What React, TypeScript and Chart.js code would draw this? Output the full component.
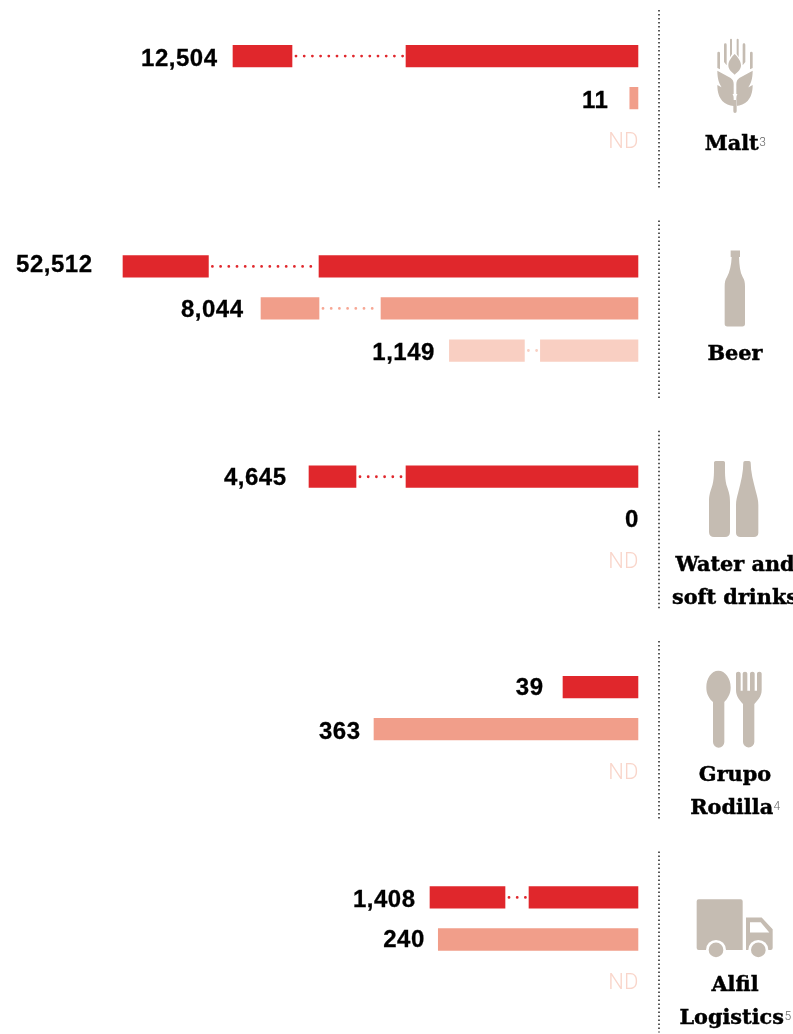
import React, { useEffect, useRef } from "react";
import { Chart, registerables } from "chart.js";

Chart.register(...registerables);

const groupNames = ["Malt", "Beer", "Water and soft drinks", "Grupo Rodilla", "Alfil Logistics"];
const titleLines = [["Malt"], ["Beer"], ["Water and", "soft drinks"], ["Grupo", "Rodilla"], ["Alfil", "Logistics"]];
const footnotes = ["3", "", "", "4", "5"];
const valueLabels = [
  ["12,504", "11", "ND"],
  ["52,512", "8,044", "1,149"],
  ["4,645", "0", "ND"],
  ["39", "363", "ND"],
  ["1,408", "240", "ND"],
];
// Drawn bar lengths (the long bars are broken, so not to scale)
const nearLengths = [
  [232.4, 8.6, 0],
  [319.4, 257.4, 98],
  [232.4, 0, 0],
  [75.4, 264.4, 0],
  [109.4, 200.1, 0],
];
const farStarts = [
  [346.4, 0, 0],
  [430, 319.4, 114],
  [282.4, 0, 0],
  [0, 0, 0],
  [133.4, 0, 0],
];
const farEnds = [
  [405.4, 0, 0],
  [515.4, 377.4, 189],
  [329.4, 0, 0],
  [0, 0, 0],
  [208.4, 0, 0],
];
const labelGaps = [
  [16, 22, 0],
  [31, 18, 15],
  [23, 0, 0],
  [20, 14, 0],
  [15, 14, 0],
];
const labelShifts = [
  [3, 3, 2],
  [-1, 2, 3],
  [2, 2, 2],
  [1, 3, 2],
  [3, 1, 2],
];
const rowColors = ["#E0272C", "#F19E8A", "#F9CFC2"];
const dotColors = ["#E0272C", "#F7A794", "#F9CFC2"];
const ICON = "#C5BCB2";
const dividerEnds = [132, 132, 132, 132, 135];

const wheat =
  "M232 159a4 4 0 0 1 8 0V208L232 204Z M252 134a4 4 0 0 1 8 0V196L252 186Z M270 119a3 3 0 0 1 6 0V162L270 172Z M290 119a3 3 0 0 1 6 0V172L290 162Z M308 134a4 4 0 0 1 8 0V186L308 196Z M330 159a4 4 0 0 1 8 0V204L330 208Z " +
  "M284 162C294 172 303 184 303 196C303 208 294 216 284 224C274 216 265 208 265 196C265 184 274 172 284 162Z " +
  "M232 212L272 234C278 238 281 244 281 252V282C256 278 232 262 232 212Z M338 212L298 234C292 238 289 244 289 252V282C314 278 338 262 338 212Z " +
  "M232 255L272 277C278 281 281 287 281 295V318C256 316 232 300 232 255Z M338 255L298 277C292 281 289 287 289 295V318C314 316 338 300 338 255Z " +
  "M280 300H290V334a5 5 0 0 1 -10 0Z";
const bottle =
  "M272 120H300V140H297C298 165 300 185 308 200C313 208 315 215 315 228V340a8 8 0 0 1 -8 8H262a8 8 0 0 1 -8 -8V228C254 215 256 208 261 200C269 185 274 165 275 140H272Z";
const twoBottles =
  "M222 97a5 5 0 0 1 5 -5H250a5 5 0 0 1 5 5C255 125 254 150 262 172C267 188 270 195 270 215V290C270 295 270 300 270 305C270 315 264 320 255 320H222C213 320 207 315 207 305C207 300 207 295 207 290V215C207 195 210 188 215 172C223 150 222 125 222 97Z " +
  "M310 97a5 5 0 0 1 5 -5H327a5 5 0 0 1 5 5C332 125 340 155 348 185C352 200 355 210 355 225V308C355 316 349 320 342 320H301C294 320 288 316 288 308V225C288 210 291 200 295 185C303 155 310 125 310 97Z";
const cutlery =
  "M235 92C256 92 272 115 272 142C272 162 262 176 253 186V306a16 16 0 0 1 -34 0V186C208 176 199 162 199 142C199 115 214 92 235 92Z " +
  "M288 100a7 5 0 0 1 14 0V152H308V100a7 5 0 0 1 14 0V152H330V100a7 5 0 0 1 14 0V152H351V100a7 5 0 0 1 14 0V150C365 170 352 182 343 192V306a17 16 0 0 1 -34 0V192C300 182 288 170 288 150Z";
const truckBody =
  "M176 148H302a6 6 0 0 1 6 6V300H176a6 6 0 0 1 -6 -6V154a6 6 0 0 1 6 -6Z M318 203H365L398 238V294a6 6 0 0 1 -6 6H318Z";
const truckWindow = "M330 217H362L388 248H330Z";
const iconDeltas = [56, 56, 46.5, 47, 47.5];

const rowLabels: string[] = [];
groupNames.forEach((name, g) => {
  valueLabels[g].forEach((_, r) => {
    rowLabels.push(name + " " + (r + 1));
  });
  if (g < groupNames.length - 1) {
    rowLabels.push("", "");
  }
});

function rowData(get: (g: number, r: number) => [number, number] | null) {
  const out: ([number, number] | null)[] = new Array(rowLabels.length).fill(null);
  groupNames.forEach((_, g) => {
    [0, 1, 2].forEach((r) => {
      out[g * 5 + r] = get(g, r);
    });
  });
  return out;
}
const rowColorList = rowLabels.map((_, i) => rowColors[i % 5] || "transparent");

const decorations = {
  id: "decorations",
  afterDatasetsDraw(chart: any) {
    const ctx: any = chart.ctx;
    const x = chart.scales.x;
    const y = chart.scales.y;
    ctx.save();
    groupNames.forEach((_, g) => {
      const top = y.getPixelForValue(g * 5);
      valueLabels[g].forEach((label, r) => {
        const cy = y.getPixelForValue(g * 5 + r);
        const near = nearLengths[g][r];
        const farS = farStarts[g][r];
        const farE = farEnds[g][r];
        if (farE > 0) {
          ctx.save();
          ctx.strokeStyle = dotColors[r];
          ctx.lineWidth = 2.8;
          ctx.lineCap = "round";
          ctx.setLineDash([0, 8.2]);
          ctx.beginPath();
          ctx.moveTo(x.getPixelForValue(farS) + 4, cy);
          ctx.lineTo(x.getPixelForValue(near) - 1, cy);
          ctx.stroke();
          ctx.restore();
        }
        ctx.textBaseline = "middle";
        ctx.textAlign = "right";
        if (label === "ND") {
          ctx.font = "300 22px Roboto";
          ctx.letterSpacing = "0px";
          ctx.fillStyle = "#F9D5CA";
          ctx.fillText(label, x.getPixelForValue(0), cy + labelShifts[g][r]);
        } else {
          const left = farE > 0 ? farE : near;
          const lx = x.getPixelForValue(left) - labelGaps[g][r] + 0.5;
          ctx.font = "bold 24px 'Liberation Sans'";
          ctx.letterSpacing = "0.5px";
          ctx.fillStyle = "#000";
          ctx.strokeStyle = "#000";
          ctx.lineWidth = 0.3;
          ctx.fillText(label, lx, cy + labelShifts[g][r]);
          ctx.strokeText(label, lx, cy + labelShifts[g][r]);
          ctx.letterSpacing = "0px";
        }
      });
      // dotted divider
      ctx.save();
      ctx.strokeStyle = "#000";
      ctx.lineWidth = 1.3;
      ctx.setLineDash([1.5, 2.5]);
      ctx.beginPath();
      ctx.moveTo(659, top - 46);
      ctx.lineTo(659, top + dividerEnds[g]);
      ctx.stroke();
      ctx.restore();
      // icon
      ctx.save();
      ctx.translate(640, top - iconDeltas[g]);
      ctx.scale(1 / 3, 1 / 3);
      ctx.fillStyle = ICON;
      if (g === 0) ctx.fill(new Path2D(wheat));
      if (g === 1) ctx.fill(new Path2D(bottle));
      if (g === 2) ctx.fill(new Path2D(twoBottles));
      if (g === 3) ctx.fill(new Path2D(cutlery));
      if (g === 4) {
        ctx.fill(new Path2D(truckBody));
        ctx.fillStyle = "#fff";
        ctx.fill(new Path2D(truckWindow));
        [228, 355].forEach((cx) => {
          ctx.fillStyle = "#fff";
          ctx.beginPath();
          ctx.arc(cx, 300, 30, 0, Math.PI * 2);
          ctx.fill();
          ctx.fillStyle = ICON;
          ctx.beginPath();
          ctx.arc(cx, 300, 22, 0, Math.PI * 2);
          ctx.fill();
        });
      }
      ctx.restore();
      // title
      ctx.textAlign = "left";
      ctx.textBaseline = "alphabetic";
      const lines = titleLines[g];
      lines.forEach((line, i) => {
        const isLast = i === lines.length - 1;
        ctx.font = "bold 20.8px 'DejaVu Serif'";
        const w = ctx.measureText(line).width;
        ctx.font = "300 12px Roboto";
        const sw = isLast && footnotes[g] ? ctx.measureText(footnotes[g]).width : 0;
        const startX = 735 - (w + sw) / 2;
        const base = top + 94 + i * 33;
        ctx.font = "bold 20.8px 'DejaVu Serif'";
        ctx.fillStyle = "#000";
        ctx.strokeStyle = "#000";
        ctx.lineWidth = 0.45;
        ctx.fillText(line, startX, base);
        ctx.strokeText(line, startX, base);
        if (sw) {
          ctx.font = "300 12px Roboto";
          ctx.fillStyle = "#666";
          ctx.fillText(footnotes[g], startX + w + 0.5, base - 4);
        }
      });
    });
    ctx.restore();
  },
};

export default function App() {
  const ref = useRef<HTMLCanvasElement>(null);
  useEffect(() => {
    const chart = new Chart(ref.current as HTMLCanvasElement, {
      type: "bar",
      data: {
        labels: rowLabels,
        datasets: [
          {
            label: "Bar",
            data: rowData((g, r) => (nearLengths[g][r] > 0 ? [0, nearLengths[g][r]] : null)) as any,
            backgroundColor: rowColorList,
            barThickness: 21.6,
            grouped: false,
          },
          {
            label: "Bar after the break",
            data: rowData((g, r) => (farEnds[g][r] > 0 ? [farStarts[g][r], farEnds[g][r]] : null)) as any,
            backgroundColor: rowColorList,
            barThickness: 21.6,
            grouped: false,
          },
        ],
      },
      options: {
        indexAxis: "y",
        responsive: false,
        animation: false,
        layout: { padding: { top: 35, bottom: 31.4, left: 0, right: 154.6 } },
        plugins: { legend: { display: false }, tooltip: { enabled: false }, title: { display: false } },
        scales: {
          x: { type: "linear", reverse: true, min: 0, max: 638.4, display: false },
          y: { type: "category", display: false },
        },
      },
      plugins: [decorations],
    } as any);
    return () => chart.destroy();
  }, []);
  return (
    <div style={{ position: "absolute", left: 0, top: 0, width: 793, height: 1034, background: "#fff", overflow: "hidden" }}>
      <canvas ref={ref} width={793} height={1034} style={{ display: "block" }} />
    </div>
  );
}
